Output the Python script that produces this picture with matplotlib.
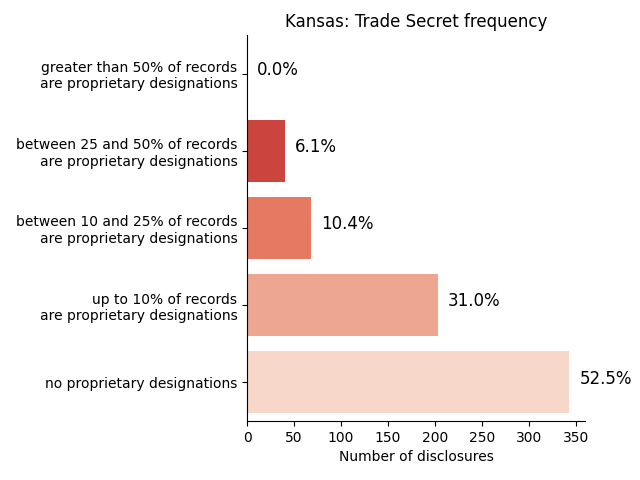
import matplotlib
matplotlib.use("Agg")
import matplotlib.pyplot as plt
import seaborn as sns

categories = [
    "greater than 50% of records\nare proprietary designations",
    "between 25 and 50% of records\nare proprietary designations",
    "between 10 and 25% of records\nare proprietary designations",
    "up to 10% of records\nare proprietary designations",
    "no proprietary designations",
]
counts = [0, 40, 68, 203, 343]
pct_labels = ["0.0%", "6.1%", "10.4%", "31.0%", "52.5%"]

fig, ax = plt.subplots(figsize=(6.4, 4.8))
sns.barplot(x=counts, y=categories, hue=categories, palette="Reds_r",
            legend=False, ax=ax)

for i, (v, lab) in enumerate(zip(counts, pct_labels)):
    ax.text(v + 11, i - 0.05, lab, va="center", ha="left", fontsize=12)

ax.set_title("Kansas: Trade Secret frequency")
ax.set_xlabel("Number of disclosures")
ax.set_ylabel("")
ax.set_xlim(0, 360)
sns.despine(ax=ax)
fig.subplots_adjust(left=0.386, right=0.914, top=0.927, bottom=0.123)
plt.savefig("out.png", dpi=100)
